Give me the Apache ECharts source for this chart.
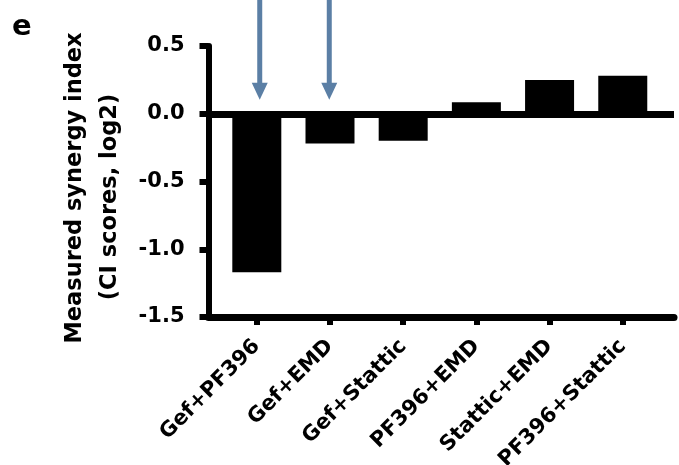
<!DOCTYPE html>
<html>
<head>
<meta charset="utf-8">
<script src="https://cdn.jsdelivr.net/npm/echarts@6/dist/echarts.min.js"></script>
<style>
html,body{margin:0;padding:0;background:#fff;}
#c{width:679px;height:465px;}
</style>
</head>
<body>
<div id="c"></div>
<script>
// ---- data ----
var categories = ['Gef+PF396', 'Gef+EMD', 'Gef+Stattic', 'PF396+EMD', 'Stattic+EMD', 'PF396+Stattic'];
var ciScores = [-1.17, -0.22, -0.20, 0.085, 0.25, 0.28];
var yTicks = [-1.5, -1.0, -0.5, 0.0, 0.5];
// arrows: x position (category index units), start value (above plot), tip value
var arrowX = [0.04, 0.99];
var arrowStart = [0.9, 0.9];
var arrowTip = [0.103, 0.103];
var panelLabel = 'e';
var yTitle1 = 'Measured synergy index';
var yTitle2 = '(CI scores, log2)';

var FONT = 'DejaVu Sans';
var ARROW = '#5b7fa5';
var chart = echarts.init(document.getElementById('c'), null, {renderer: 'canvas'});

var catIdx = categories.map(function (_, i) { return i; });
var barData = ciScores.map(function (v, i) { return [i, v]; });
var arrowData = arrowX.map(function (x, i) { return [x, arrowStart[i], arrowTip[i]]; });

var option = {
  animation: false,
  backgroundColor: '#fff',
  grid: {left: 208.5, right: 5, top: 46, bottom: 148, containLabel: false, outerBoundsMode: 'none'},
  xAxis: {
    type: 'value',
    min: -0.66,
    max: 5.70,
    splitLine: {show: false},
    axisLine: {show: true, onZero: false, lineStyle: {color: '#000', width: 7}},
    axisTick: {show: true, customValues: catIdx, length: 8, lineStyle: {color: '#000', width: 6}},
    axisLabel: {
      customValues: catIdx,
      rotate: 45,
      margin: 26,
      color: '#000',
      fontFamily: FONT,
      fontWeight: 'bold',
      fontSize: 21,
      formatter: function (v) { return categories[Math.round(v)]; }
    }
  },
  yAxis: {
    type: 'value',
    min: yTicks[0],
    max: yTicks[yTicks.length - 1],
    interval: 0.5,
    splitLine: {show: false},
    axisLine: {show: true, onZero: false, lineStyle: {color: '#000', width: 6}},
    axisTick: {show: true, length: 9, lineStyle: {color: '#000', width: 6}},
    axisLabel: {
      margin: 24,
      color: '#000',
      fontFamily: FONT,
      fontWeight: 'bold',
      fontSize: 21,
      formatter: function (v) { return v.toFixed(1); }
    }
  },
  graphic: [
    {type: 'text', x: 12, y: 27, style: {text: panelLabel, fill: '#000', fontFamily: FONT, fontWeight: 'bold', fontSize: 29, align: 'left', verticalAlign: 'middle'}},
    {type: 'text', x: 75, y: 188, rotation: Math.PI / 2, style: {text: yTitle1, fill: '#000', fontFamily: FONT, fontWeight: 'bold', fontSize: 22.5, align: 'center', verticalAlign: 'middle'}},
    {type: 'text', x: 110, y: 197, rotation: Math.PI / 2, style: {text: yTitle2, fill: '#000', fontFamily: FONT, fontWeight: 'bold', fontSize: 22.5, align: 'center', verticalAlign: 'middle'}}
  ],
  series: [{
    type: 'bar',
    data: barData,
    barWidth: 49,
    clip: false,
    itemStyle: {color: '#000'},
    silent: true,
    markLine: {
      silent: true,
      animation: false,
      symbol: 'none',
      label: {show: false},
      emphasis: {disabled: true},
      data: [
        {yAxis: 0, lineStyle: {color: '#000', width: 7, type: 'solid'}}
      ]
    }
  }, {
    type: 'custom',
    data: arrowData,
    clip: false,
    silent: true,
    encode: {x: 0, y: [1, 2]},
    renderItem: function (params, api) {
      var x = api.value(0);
      var p0 = api.coord([x, api.value(1)]);
      var p1 = api.coord([x, api.value(2)]);
      var hw = 8, hh = 17;
      return {
        type: 'group',
        children: [
          {type: 'line', shape: {x1: p0[0], y1: p0[1], x2: p1[0], y2: p1[1] - hh + 1}, style: {stroke: ARROW, lineWidth: 5}},
          {type: 'polygon', shape: {points: [[p1[0] - hw, p1[1] - hh], [p1[0] + hw, p1[1] - hh], [p1[0], p1[1]]]}, style: {fill: ARROW}}
        ]
      };
    }
  }]
};
chart.setOption(option);
</script>
</body>
</html>
